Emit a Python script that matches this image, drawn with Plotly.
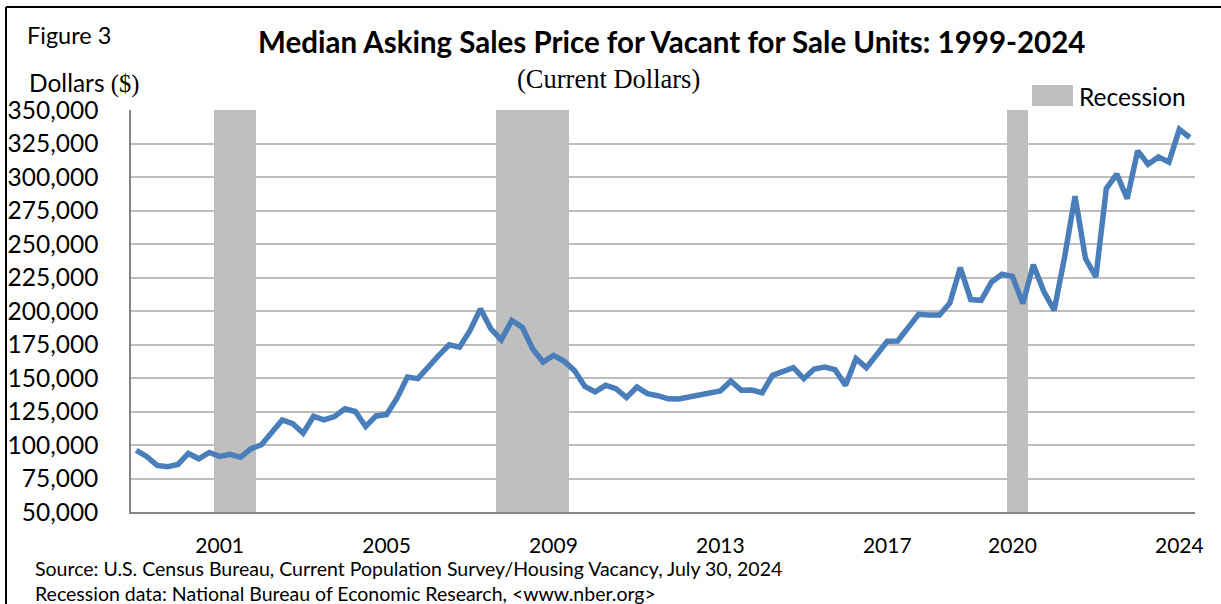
import plotly.graph_objects as go

# Quarterly categories 1999 Q1 .. 2024 Q2
years = list(range(1999, 2025))
quarters = [f"{y} Q{q}" for y in years for q in range(1, 5)][:102]

# Median asking sales price (current dollars)
price = [
    96000, 91500, 84800, 83800, 85500, 93700, 89700, 94400,
    91500, 93000, 90800, 97200, 100200, 110000, 118700, 116000,
    108800, 121400, 118700, 121200, 127000, 125000, 113800, 121700,
    122700, 135000, 150700, 149500, 158700, 166900, 174800, 173000,
    185500, 201600, 186700, 178500, 192900, 188000, 171800, 161900,
    166900, 162600, 155700, 143800, 139600, 144500, 142100, 135400,
    143300, 138300, 136800, 134500, 134300, 135600, 137500, 138300,
    140300, 147800, 140800, 141000, 139000, 152000, 155200, 157700,
    149500, 156700, 158200, 156200, 144500, 164400, 157700, 167700,
    177400, 177600, 188100, 197500, 197000, 197000, 206000, 232400,
    208500, 208000, 221700, 227400, 225900, 205500, 234600, 214700,
    200500, 240300, 285700, 239100, 225400, 291400, 302100, 283900,
    319500, 309600, 315000, 311100, 335500, 329500,
]

# NBER recession quarters
recession_quarters = [
    "2001 Q1", "2001 Q2", "2001 Q3", "2001 Q4",
    "2007 Q4", "2008 Q1", "2008 Q2", "2008 Q3", "2008 Q4", "2009 Q1", "2009 Q2",
    "2020 Q1", "2020 Q2",
]

tick_quarters = ["2001 Q1", "2005 Q1", "2009 Q1", "2013 Q1", "2017 Q1", "2020 Q1", "2024 Q1"]
tick_labels = ["2001", "2005", "2009", "2013", "2017", "2020", "2024"]

Y_MIN, Y_MAX, Y_STEP = 50000, 350000, 25000
y_ticks = list(range(Y_MIN, Y_MAX + 1, Y_STEP))

FONT = "Lato"
BLUE = "#4A7EBB"
GRAY = "#BFBFBF"

fig = go.Figure()
fig.add_trace(go.Bar(
    x=recession_quarters, y=[Y_MAX] * len(recession_quarters),
    width=1.0, marker=dict(color=GRAY, line=dict(width=0)),
    name="Recession", showlegend=False, hoverinfo="skip",
))
fig.add_trace(go.Scatter(
    x=quarters, y=price, mode="lines",
    line=dict(color=BLUE, width=5.5), name="Median asking price",
    showlegend=False,
))

# plot area in pixels: x 131..1195, y 110..512
L, R, T, B = 131, 1195, 110, 512
W, H = R - L, B - T
def px(x):
    return (x - L) / W
def py(y):
    return (B - y) / H

fig.update_layout(
    width=1221, height=604,
    margin=dict(l=L, r=1221 - R, t=T, b=604 - B),
    paper_bgcolor="white", plot_bgcolor="white",
    font=dict(family=FONT, color="black"),
    bargap=0,
    xaxis=dict(
        type="category", categoryorder="array", categoryarray=quarters,
        range=[-0.5, len(quarters) - 0.5], automargin=False,
        tickmode="array", tickvals=tick_quarters, ticktext=tick_labels,
        showgrid=False, showline=True, linecolor="#868686", linewidth=1.5,
        ticks="", tickfont=dict(size=21, family=FONT), ticklabelstandoff=14,
    ),
    yaxis=dict(
        range=[Y_MIN, Y_MAX], tickmode="array", tickvals=y_ticks, automargin=False,
        ticktext=[f"{v:,}" for v in y_ticks],
        showgrid=True, gridcolor="#BDBDBD", gridwidth=1.5,
        showline=True, linecolor="#868686", linewidth=1.5,
        ticks="", tickfont=dict(size=24.5, family=FONT), ticklabelstandoff=26,
        zeroline=False,
    ),
    shapes=[
        dict(type="rect", xref="paper", yref="paper",
             x0=px(1032), x1=px(1073), y0=py(106), y1=py(85),
             fillcolor=GRAY, line=dict(width=0)),
        dict(type="line", xref="paper", yref="paper",
             x0=px(6), x1=px(1225), y0=py(7), y1=py(7),
             line=dict(color="black", width=2)),
        dict(type="line", xref="paper", yref="paper",
             x0=px(6), x1=px(6), y0=py(7), y1=py(610),
             line=dict(color="black", width=2)),
    ],
    annotations=[
        dict(text="Figure 3", xref="paper", yref="paper", x=px(25), y=py(35),
             xanchor="left", yanchor="middle", showarrow=False,
             font=dict(size=23.5, family=FONT)),
        dict(text="<b>Median Asking Sales Price for Vacant for Sale Units: 1999-2024</b>",
             xref="paper", yref="paper", x=px(671), y=py(41),
             xanchor="center", yanchor="middle", showarrow=False,
             font=dict(size=29.5, family=FONT)),
        dict(text="(Current Dollars)", xref="paper", yref="paper", x=px(608), y=py(79),
             xanchor="center", yanchor="middle", showarrow=False,
             font=dict(size=26.5, family="Liberation Serif")),
        dict(text="Dollars <span style=\"font-family:'Liberation Serif'\">($)</span>",
             xref="paper", yref="paper", x=px(27), y=py(83),
             xanchor="left", yanchor="middle", showarrow=False,
             font=dict(size=24.5, family=FONT)),
        dict(text="Recession", xref="paper", yref="paper", x=px(1077), y=py(96),
             xanchor="left", yanchor="middle", showarrow=False,
             font=dict(size=24.5, family=FONT)),
        dict(text="Source: U.S. Census Bureau, Current Population Survey/Housing Vacancy, July 30, 2024",
             xref="paper", yref="paper", x=px(33), y=py(568),
             xanchor="left", yanchor="middle", showarrow=False,
             font=dict(size=19.5, family=FONT)),
        dict(text="Recession data: National Bureau of Economic Research, &lt;www.nber.org&gt;",
             xref="paper", yref="paper", x=px(33), y=py(593),
             xanchor="left", yanchor="middle", showarrow=False,
             font=dict(size=19.5, family=FONT)),
    ],
)

fig.write_html("out.html")
